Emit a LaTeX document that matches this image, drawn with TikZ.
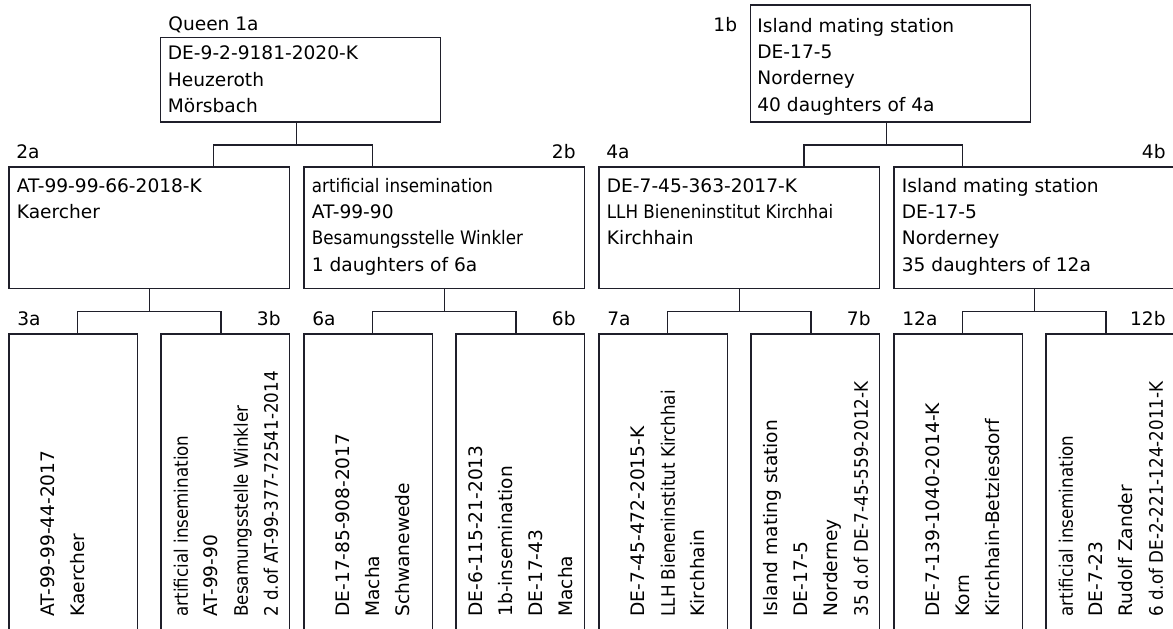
\documentclass[tikz,border=0pt]{standalone}
\usepackage{fontspec}
\setmainfont{DejaVu Sans}
\newfontfamily\cond{DejaVu Sans}[FakeStretch=0.9]
\usetikzlibrary{calc}
\definecolor{frame}{HTML}{1F1F2A}
\tikzset{
  box/.style={draw=frame,line width=0.65pt,inner sep=0pt,outer sep=0pt,anchor=north west},
  bigbox/.style={box,minimum width=140.25pt,minimum height=60.75pt},
  slimbox/.style={box,minimum width=64.25pt,minimum height=153pt},
  txt/.style={inner sep=0pt,anchor=north west,align=left,font=\fontsize{9.3}{13.2}\selectfont},
  vtxt/.style={txt,rotate=90,font=\fontsize{9.3}{15}\selectfont},
  tagtext/.style={inner sep=0pt,font=\fontsize{9.3}{11}\selectfont},
  conn/.style={draw=frame,line width=0.65pt},
}
\begin{document}
\begin{tikzpicture}[x=0.5pt,y=-0.5pt]
  \useasboundingbox (0,0) rectangle (1173,628);
  \clip (0,0) rectangle (1173,628);
  % generation 1
  \node[box,minimum width=140pt,minimum height=42.25pt] (b1a) at (160.5,37.5) {};
  \node[box,minimum width=140pt,minimum height=58.5pt] (b1b) at (750.5,5) {};
  % generation 2
  \node[bigbox] (b2a) at (9,167) {};
  \node[bigbox] (b2b) at (304,167) {};
  \node[bigbox] (b4a) at (599,167) {};
  \node[bigbox] (b4b) at (894,167) {};
  % generation 3
  \node[slimbox] (b3a) at (9,334) {};
  \node[slimbox] (b3b) at (161,334) {};
  \node[slimbox] (b6a) at (304,334) {};
  \node[slimbox] (b6b) at (456,334) {};
  \node[slimbox] (b7a) at (599,334) {};
  \node[slimbox] (b7b) at (751,334) {};
  \node[slimbox] (b12a) at (894,334) {};
  \node[slimbox] (b12b) at (1046,334) {};
  % tags
  \node[tagtext,anchor=base west] (l1a) at ($(b1a.north west)+(7.5,-7.5)$) {Queen 1a};
  \node[tagtext,anchor=base east] (l1b) at ($(b1b.north west)+(-13,26.7)$) {1b};
  \node[tagtext,anchor=base west] (l2a) at ($(b2a.north west)+(7,-8.5)$) {2a};
  \node[tagtext,anchor=base east] (l2b) at ($(b2b.north east)+(-8.5,-8.5)$) {2b};
  \node[tagtext,anchor=base west] (l4a) at ($(b4a.north west)+(7,-8.5)$) {4a};
  \node[tagtext,anchor=base east] (l4b) at ($(b4b.north east)+(-8.5,-8.5)$) {4b};
  \node[tagtext,anchor=base west] (l3a) at ($(b3a.north west)+(8,-9)$) {3a};
  \node[tagtext,anchor=base east] (l3b) at ($(b3b.north east)+(-8.5,-9)$) {3b};
  \node[tagtext,anchor=base west] (l6a) at ($(b6a.north west)+(8,-9)$) {6a};
  \node[tagtext,anchor=base east] (l6b) at ($(b6b.north east)+(-8.5,-9)$) {6b};
  \node[tagtext,anchor=base west] (l7a) at ($(b7a.north west)+(8,-9)$) {7a};
  \node[tagtext,anchor=base east] (l7b) at ($(b7b.north east)+(-8.5,-9)$) {7b};
  \node[tagtext,anchor=base west] (l12a) at ($(b12a.north west)+(8,-9)$) {12a};
  \node[tagtext,anchor=base east] (l12b) at ($(b12b.north east)+(-8.5,-9)$) {12b};
  % texts
  \node[txt] (t1a) at ($(b1a.north west)+(7,3.3)$) {\strut DE-9-2-9181-2020-K\\Heuzeroth\\Mörsbach};
  \node[txt] (t1b) at ($(b1b.north west)+(6.5,8.2)$) {\strut Island mating station\\DE-17-5\\Norderney\\40 daughters of 4a};
  \node[txt] (t2a) at ($(b2a.north west)+(7.5,6.2)$) {\strut AT-99-99-66-2018-K\\Kaercher};
  \node[txt] (t2b) at ($(b2b.north west)+(7.5,6.2)$) {\strut{\cond artificial insemination}\\AT-99-90\\{\cond Besamungsstelle Winkler}\\1 daughters of 6a};
  \node[txt] (t4a) at ($(b4a.north west)+(7.5,6.2)$) {\strut DE-7-45-363-2017-K\\{\cond LLH Bieneninstitut Kirchhai}\\Kirchhain};
  \node[txt] (t4b) at ($(b4b.north west)+(7.5,6.2)$) {\strut Island mating station\\DE-17-5\\Norderney\\35 daughters of 12a};
  \node[vtxt] (t3a) at ($(b3a.north west)+(24.5,283)$) {\strut AT-99-99-44-2017\\Kaercher};
  \node[vtxt] (t3b) at ($(b3b.north west)+(5.5,283)$) {\strut{\cond artificial insemination}\\AT-99-90\\{\cond Besamungsstelle Winkler}\\{\cond 2 d.of AT-99-377-72541-2014}};
  \node[vtxt] (t6a) at ($(b6a.north west)+(24.5,283)$) {\strut DE-17-85-908-2017\\Macha\\Schwanewede};
  \node[vtxt] (t6b) at ($(b6b.north west)+(5.5,283)$) {\strut DE-6-115-21-2013\\1b-insemination\\DE-17-43\\Macha};
  \node[vtxt] (t7a) at ($(b7a.north west)+(24.5,283)$) {\strut DE-7-45-472-2015-K\\{\cond LLH Bieneninstitut Kirchhai}\\Kirchhain};
  \node[vtxt] (t7b) at ($(b7b.north west)+(5.5,283)$) {\strut Island mating station\\DE-17-5\\Norderney\\{\cond 35 d.of DE-7-45-559-2012-K}};
  \node[vtxt] (t12a) at ($(b12a.north west)+(24.5,283)$) {\strut DE-7-139-1040-2014-K\\Korn\\Kirchhain-Betziesdorf};
  \node[vtxt] (t12b) at ($(b12b.north west)+(5.5,283)$) {\strut{\cond artificial insemination}\\DE-7-23\\Rudolf Zander\\{\cond 6 d.of DE-2-221-124-2011-K}};
  % connectors
  \draw[conn] ($(b1a.south)+(-3.8,0)$) -- ++(0,23) coordinate (k1a);
  \draw[conn] ($(b2a.north west)+(204.5,0)$) |- (k1a) -| ($(b2b.north west)+(68.5,0)$);
  \draw[conn] ($(b1b.south)+(-3.8,0)$) -- ++(0,23) coordinate (k1b);
  \draw[conn] ($(b4a.north west)+(205,0)$) |- (k1b) -| ($(b4b.north west)+(68.5,0)$);
  \draw[conn] (b2a.south) -- ++(0,23.2) coordinate (k2a);
  \draw[conn] ($(b3a.north west)+(68.3,0)$) |- (k2a) -| ($(b3b.north east)+(-68.5,0)$);
  \draw[conn] (b2b.south) -- ++(0,23.2) coordinate (k2b);
  \draw[conn] ($(b6a.north west)+(68.3,0)$) |- (k2b) -| ($(b6b.north east)+(-68.5,0)$);
  \draw[conn] (b4a.south) -- ++(0,23.2) coordinate (k4a);
  \draw[conn] ($(b7a.north west)+(68.3,0)$) |- (k4a) -| ($(b7b.north east)+(-68.5,0)$);
  \draw[conn] (b4b.south) -- ++(0,23.2) coordinate (k4b);
  \draw[conn] ($(b12a.north west)+(68.3,0)$) |- (k4b) -| ($(b12b.north east)+(-68.5,0)$);
\end{tikzpicture}
\end{document}
